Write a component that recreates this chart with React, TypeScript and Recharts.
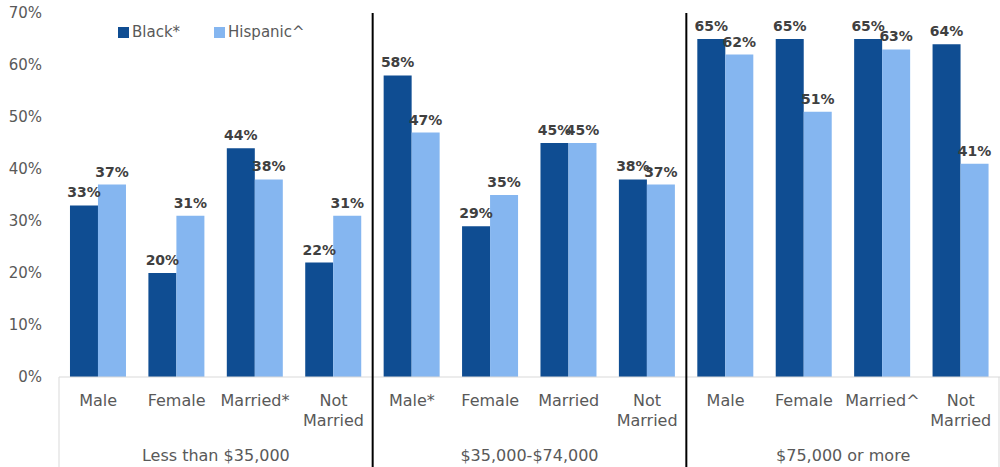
import React from 'react';
import { BarChart, Bar, XAxis, YAxis, LabelList } from 'recharts';

// Categories and group labels
const categories = [
  'Male', 'Female', 'Married*', 'Not Married',
  'Male*', 'Female', 'Married', 'Not Married',
  'Male', 'Female', 'Married^', 'Not Married',
];
const groups = ['Less than $35,000', '$35,000-$74,000', '$75,000 or more'];

// Series values (%)
const black = [33, 20, 44, 22, 58, 29, 45, 38, 65, 65, 65, 64];
const hispanic = [37, 31, 38, 31, 47, 35, 45, 37, 62, 51, 63, 41];

const yTicks = [0, 10, 20, 30, 40, 50, 60, 70];

const DARK = '#0F4D92';
const LIGHT = '#85B6F0';
const TEXT = '#595959';
const LABEL = '#404040';
const FONT = '"DejaVu Sans", sans-serif';

const W = 1000;
const H = 467;
const LEFT = 59;
const TOP = 13;
const BOTTOM = 377;
const BW = (W - LEFT) / categories.length;

const data = categories.map((c, i) => ({
  label: c,
  black: black[i],
  hispanic: hispanic[i],
}));

const CategoryTick = (props: any) => {
  const { x, index, payload } = props;
  const words = String(payload.value).split(' ');
  const lines = words.length > 1 ? words : [payload.value];
  return (
    <g>
      {lines.map((t: string, k: number) => (
        <text key={k} x={x} y={BOTTOM + 29 + k * 20} textAnchor="middle" fill={TEXT}
          fontSize={16} fontFamily={FONT}>{t}</text>
      ))}
      {index % 4 === 1 && (
        <text x={x + BW / 2} y={BOTTOM + 84} textAnchor="middle" fill={TEXT}
          fontSize={16} fontFamily={FONT}>{groups[Math.floor(index / 4)]}</text>
      )}
      {index === 0 && (
        <line x1={x - BW / 2} x2={x - BW / 2} y1={BOTTOM} y2={H} stroke="#D9D9D9" />
      )}
      {index === categories.length - 1 && (
        <line x1={x + BW / 2 - 1} x2={x + BW / 2 - 1} y1={BOTTOM} y2={H} stroke="#D9D9D9" />
      )}
      {index % 4 === 0 && index > 0 && (
        <line x1={x - BW / 2} x2={x - BW / 2} y1={TOP} y2={H} stroke="#000" strokeWidth={2} />
      )}
    </g>
  );
};

const swatch = (color: string) => (
  <span style={{ width: 11, height: 11, background: color, display: 'inline-block', marginRight: 3 }} />
);

const App: React.FC = () => {
  return (
    <div style={{ width: W, height: H, background: '#fff', position: 'relative' }}>
      <style>{'body{margin:0}'}</style>
      <div style={{
        position: 'absolute', top: 23, left: 118, zIndex: 2,
        display: 'flex', alignItems: 'center', fontFamily: FONT, fontSize: 15, color: TEXT,
      }}>
        {swatch(DARK)}
        <span style={{ marginRight: 34 }}>Black*</span>
        {swatch(LIGHT)}
        <span>Hispanic^</span>
      </div>
      <BarChart
        width={W}
        height={H}
        data={data}
        margin={{ top: TOP, right: 0, bottom: 0, left: 0 }}
        barCategoryGap="14%"
        barGap={0}
      >
        <XAxis
          dataKey="label"
          interval={0}
          tickLine={false}
          axisLine={{ stroke: '#D9D9D9' }}
          height={H - BOTTOM}
          tick={<CategoryTick />}
        />
        <YAxis
          width={LEFT}
          domain={[0, 70]}
          ticks={yTicks}
          interval={0}
          axisLine={false}
          tickLine={false}
          tickMargin={11}
          tickFormatter={(v: number) => `${v}%`}
          tick={{ fill: TEXT, fontSize: 15, fontFamily: FONT }}
        />
        <Bar dataKey="black" fill={DARK} isAnimationActive={false}>
          <LabelList dataKey="black" position="top" offset={8}
            formatter={(v: any) => `${v}%`}
            style={{ fill: LABEL, fontSize: 14, fontWeight: 'bold', fontFamily: FONT }} />
        </Bar>
        <Bar dataKey="hispanic" fill={LIGHT} isAnimationActive={false}>
          <LabelList dataKey="hispanic" position="top" offset={8}
            formatter={(v: any) => `${v}%`}
            style={{ fill: LABEL, fontSize: 14, fontWeight: 'bold', fontFamily: FONT }} />
        </Bar>
      </BarChart>
    </div>
  );
};

export default App;
